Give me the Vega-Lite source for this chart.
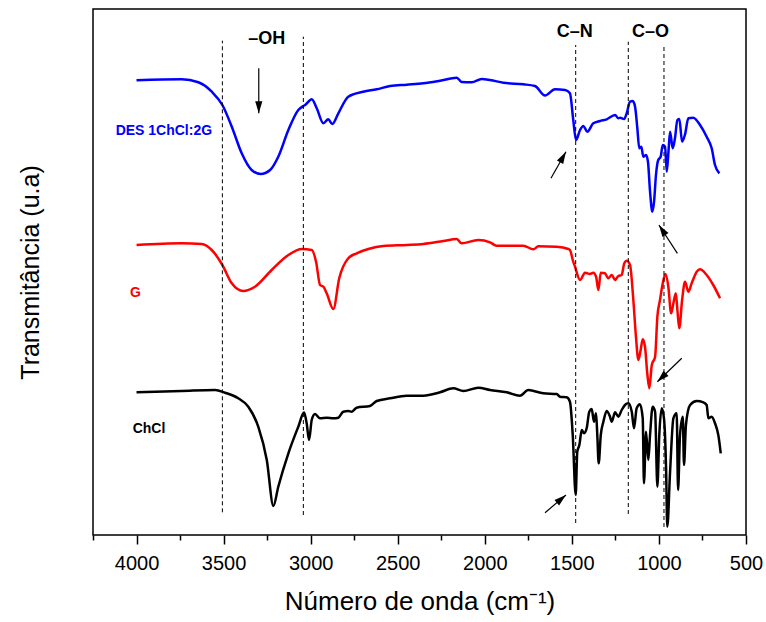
{
  "$schema": "https://vega.github.io/schema/vega-lite/v6.json",
  "width": 653,
  "height": 526,
  "autosize": {"type": "none"},
  "padding": {"left": 93, "top": 9, "right": 20, "bottom": 87},
  "config": {
    "font": "Liberation Sans",
    "view": {"stroke": "black", "strokeWidth": 1.5},
    "axis": {"grid": false, "labelColor": "black", "titleColor": "black", "titleFontWeight": "normal"}
  },
  "datasets": {
    "spectra": [
      {"s":"DES 1ChCl:2G","wn":4000,"t":454.7},{"s":"DES 1ChCl:2G","wn":3741,"t":455.7},{"s":"DES 1ChCl:2G","wn":3645,"t":452.7},{"s":"DES 1ChCl:2G","wn":3568,"t":443.3},{"s":"DES 1ChCl:2G","wn":3507,"t":430},{"s":"DES 1ChCl:2G","wn":3453,"t":408.3},{"s":"DES 1ChCl:2G","wn":3396,"t":381.7},{"s":"DES 1ChCl:2G","wn":3339,"t":365},{"s":"DES 1ChCl:2G","wn":3287,"t":361},{"s":"DES 1ChCl:2G","wn":3233,"t":365},{"s":"DES 1ChCl:2G","wn":3186,"t":378.3},{"s":"DES 1ChCl:2G","wn":3128,"t":405},{"s":"DES 1ChCl:2G","wn":3071,"t":425},{"s":"DES 1ChCl:2G","wn":3042,"t":429},{"s":"DES 1ChCl:2G","wn":3032,"t":430},{"s":"DES 1ChCl:2G","wn":2994,"t":435.7},{"s":"DES 1ChCl:2G","wn":2965,"t":426.7},{"s":"DES 1ChCl:2G","wn":2927,"t":411.7},{"s":"DES 1ChCl:2G","wn":2899,"t":415.7},{"s":"DES 1ChCl:2G","wn":2876,"t":411},{"s":"DES 1ChCl:2G","wn":2841,"t":421.7},{"s":"DES 1ChCl:2G","wn":2784,"t":438.3},{"s":"DES 1ChCl:2G","wn":2698,"t":443.3},{"s":"DES 1ChCl:2G","wn":2621,"t":445.7},{"s":"DES 1ChCl:2G","wn":2544,"t":449},{"s":"DES 1ChCl:2G","wn":2448,"t":450.3},{"s":"DES 1ChCl:2G","wn":2353,"t":451.7},{"s":"DES 1ChCl:2G","wn":2257,"t":454.3},{"s":"DES 1ChCl:2G","wn":2161,"t":457.3},{"s":"DES 1ChCl:2G","wn":2133,"t":453},{"s":"DES 1ChCl:2G","wn":2075,"t":452.7},{"s":"DES 1ChCl:2G","wn":2018,"t":456},{"s":"DES 1ChCl:2G","wn":1970,"t":455},{"s":"DES 1ChCl:2G","wn":1894,"t":452.3},{"s":"DES 1ChCl:2G","wn":1779,"t":450.7},{"s":"DES 1ChCl:2G","wn":1712,"t":449},{"s":"DES 1ChCl:2G","wn":1654,"t":439.5},{"s":"DES 1ChCl:2G","wn":1597,"t":445.7},{"s":"DES 1ChCl:2G","wn":1539,"t":445},{"s":"DES 1ChCl:2G","wn":1511,"t":441.7},{"s":"DES 1ChCl:2G","wn":1492,"t":415},{"s":"DES 1ChCl:2G","wn":1476,"t":395},{"s":"DES 1ChCl:2G","wn":1453,"t":405},{"s":"DES 1ChCl:2G","wn":1434,"t":409},{"s":"DES 1ChCl:2G","wn":1411,"t":403.3},{"s":"DES 1ChCl:2G","wn":1377,"t":411.7},{"s":"DES 1ChCl:2G","wn":1338,"t":414},{"s":"DES 1ChCl:2G","wn":1300,"t":415.7},{"s":"DES 1ChCl:2G","wn":1252,"t":420},{"s":"DES 1ChCl:2G","wn":1233,"t":416.7},{"s":"DES 1ChCl:2G","wn":1223,"t":417.3},{"s":"DES 1ChCl:2G","wn":1200,"t":416},{"s":"DES 1ChCl:2G","wn":1185,"t":421.7},{"s":"DES 1ChCl:2G","wn":1166,"t":433.3},{"s":"DES 1ChCl:2G","wn":1150,"t":434},{"s":"DES 1ChCl:2G","wn":1137,"t":428.3},{"s":"DES 1ChCl:2G","wn":1124,"t":406.7},{"s":"DES 1ChCl:2G","wn":1113,"t":386.7},{"s":"DES 1ChCl:2G","wn":1101,"t":388.3},{"s":"DES 1ChCl:2G","wn":1090,"t":378.3},{"s":"DES 1ChCl:2G","wn":1074,"t":380},{"s":"DES 1ChCl:2G","wn":1063,"t":373.3},{"s":"DES 1ChCl:2G","wn":1051,"t":343.3},{"s":"DES 1ChCl:2G","wn":1038,"t":323.3},{"s":"DES 1ChCl:2G","wn":1028,"t":333.3},{"s":"DES 1ChCl:2G","wn":1017,"t":360},{"s":"DES 1ChCl:2G","wn":1004,"t":375},{"s":"DES 1ChCl:2G","wn":990,"t":378.3},{"s":"DES 1ChCl:2G","wn":978,"t":390},{"s":"DES 1ChCl:2G","wn":965,"t":388.3},{"s":"DES 1ChCl:2G","wn":955,"t":363.3},{"s":"DES 1ChCl:2G","wn":944,"t":386.7},{"s":"DES 1ChCl:2G","wn":936,"t":403.3},{"s":"DES 1ChCl:2G","wn":921,"t":386.7},{"s":"DES 1ChCl:2G","wn":908,"t":396.7},{"s":"DES 1ChCl:2G","wn":894,"t":415},{"s":"DES 1ChCl:2G","wn":883,"t":416},{"s":"DES 1ChCl:2G","wn":867,"t":393.3},{"s":"DES 1ChCl:2G","wn":850,"t":400.7},{"s":"DES 1ChCl:2G","wn":831,"t":416.7},{"s":"DES 1ChCl:2G","wn":803,"t":417.3},{"s":"DES 1ChCl:2G","wn":764,"t":410},{"s":"DES 1ChCl:2G","wn":726,"t":398.3},{"s":"DES 1ChCl:2G","wn":697,"t":386.7},{"s":"DES 1ChCl:2G","wn":678,"t":370},{"s":"DES 1ChCl:2G","wn":653,"t":361.7},
      {"s":"G","wn":4000,"t":290},{"s":"G","wn":3741,"t":291.7},{"s":"G","wn":3626,"t":291},{"s":"G","wn":3568,"t":285},{"s":"G","wn":3507,"t":270},{"s":"G","wn":3453,"t":251.7},{"s":"G","wn":3387,"t":244},{"s":"G","wn":3320,"t":248.3},{"s":"G","wn":3224,"t":265},{"s":"G","wn":3128,"t":280},{"s":"G","wn":3051,"t":286},{"s":"G","wn":2994,"t":285},{"s":"G","wn":2969,"t":273.3},{"s":"G","wn":2946,"t":250},{"s":"G","wn":2927,"t":248.3},{"s":"G","wn":2908,"t":241.7},{"s":"G","wn":2870,"t":226},{"s":"G","wn":2836,"t":256.7},{"s":"G","wn":2784,"t":276.7},{"s":"G","wn":2736,"t":281.7},{"s":"G","wn":2669,"t":286},{"s":"G","wn":2583,"t":289},{"s":"G","wn":2448,"t":290},{"s":"G","wn":2353,"t":291},{"s":"G","wn":2238,"t":294},{"s":"G","wn":2161,"t":296},{"s":"G","wn":2133,"t":291.7},{"s":"G","wn":2037,"t":295},{"s":"G","wn":1970,"t":292.7},{"s":"G","wn":1932,"t":289.3},{"s":"G","wn":1779,"t":289.3},{"s":"G","wn":1721,"t":285.7},{"s":"G","wn":1693,"t":288.7},{"s":"G","wn":1587,"t":288.3},{"s":"G","wn":1520,"t":286},{"s":"G","wn":1511,"t":285},{"s":"G","wn":1492,"t":273.3},{"s":"G","wn":1482,"t":268.3},{"s":"G","wn":1453,"t":255},{"s":"G","wn":1424,"t":262.3},{"s":"G","wn":1396,"t":261},{"s":"G","wn":1377,"t":262.3},{"s":"G","wn":1361,"t":258.3},{"s":"G","wn":1348,"t":245},{"s":"G","wn":1334,"t":262.3},{"s":"G","wn":1310,"t":261.7},{"s":"G","wn":1291,"t":256.7},{"s":"G","wn":1271,"t":260},{"s":"G","wn":1252,"t":255},{"s":"G","wn":1233,"t":259},{"s":"G","wn":1214,"t":260},{"s":"G","wn":1199,"t":271.7},{"s":"G","wn":1185,"t":274.3},{"s":"G","wn":1166,"t":270},{"s":"G","wn":1147,"t":235},{"s":"G","wn":1132,"t":198.3},{"s":"G","wn":1118,"t":175},{"s":"G","wn":1105,"t":185},{"s":"G","wn":1093,"t":195.7},{"s":"G","wn":1080,"t":188.3},{"s":"G","wn":1067,"t":161.7},{"s":"G","wn":1055,"t":146.7},{"s":"G","wn":1041,"t":170},{"s":"G","wn":1022,"t":178.3},{"s":"G","wn":1009,"t":218.3},{"s":"G","wn":994,"t":235},{"s":"G","wn":978,"t":251.7},{"s":"G","wn":963,"t":261},{"s":"G","wn":946,"t":248.3},{"s":"G","wn":930,"t":221.7},{"s":"G","wn":917,"t":231.7},{"s":"G","wn":903,"t":241.7},{"s":"G","wn":894,"t":225},{"s":"G","wn":883,"t":206.7},{"s":"G","wn":867,"t":235},{"s":"G","wn":850,"t":253.3},{"s":"G","wn":831,"t":243.3},{"s":"G","wn":812,"t":251.7},{"s":"G","wn":783,"t":263.3},{"s":"G","wn":764,"t":265.7},{"s":"G","wn":726,"t":260},{"s":"G","wn":688,"t":250},{"s":"G","wn":649,"t":236.7},
      {"s":"ChCl","wn":4000,"t":142.7},{"s":"ChCl","wn":3741,"t":144},{"s":"ChCl","wn":3549,"t":145},{"s":"ChCl","wn":3492,"t":142.3},{"s":"ChCl","wn":3416,"t":136.7},{"s":"ChCl","wn":3358,"t":128.3},{"s":"ChCl","wn":3301,"t":108.3},{"s":"ChCl","wn":3252,"t":75},{"s":"ChCl","wn":3214,"t":29},{"s":"ChCl","wn":3186,"t":48.3},{"s":"ChCl","wn":3128,"t":81.7},{"s":"ChCl","wn":3071,"t":108.3},{"s":"ChCl","wn":3038,"t":122.5},{"s":"ChCl","wn":3023,"t":111.7},{"s":"ChCl","wn":3009,"t":95},{"s":"ChCl","wn":2994,"t":115},{"s":"ChCl","wn":2975,"t":121},{"s":"ChCl","wn":2946,"t":116.7},{"s":"ChCl","wn":2908,"t":117.3},{"s":"ChCl","wn":2870,"t":116.7},{"s":"ChCl","wn":2841,"t":117.3},{"s":"ChCl","wn":2813,"t":123.3},{"s":"ChCl","wn":2784,"t":124},{"s":"ChCl","wn":2764,"t":123.3},{"s":"ChCl","wn":2736,"t":127.3},{"s":"ChCl","wn":2659,"t":129},{"s":"ChCl","wn":2621,"t":134},{"s":"ChCl","wn":2544,"t":136.7},{"s":"ChCl","wn":2448,"t":139.3},{"s":"ChCl","wn":2353,"t":139.3},{"s":"ChCl","wn":2257,"t":142.7},{"s":"ChCl","wn":2181,"t":146.7},{"s":"ChCl","wn":2123,"t":144},{"s":"ChCl","wn":2037,"t":147.3},{"s":"ChCl","wn":1970,"t":145},{"s":"ChCl","wn":1874,"t":142.7},{"s":"ChCl","wn":1798,"t":139.3},{"s":"ChCl","wn":1750,"t":145},{"s":"ChCl","wn":1664,"t":141.7},{"s":"ChCl","wn":1587,"t":141},{"s":"ChCl","wn":1568,"t":138.3},{"s":"ChCl","wn":1530,"t":137.7},{"s":"ChCl","wn":1511,"t":133.3},{"s":"ChCl","wn":1495,"t":100},{"s":"ChCl","wn":1478,"t":40},{"s":"ChCl","wn":1469,"t":83.3},{"s":"ChCl","wn":1457,"t":90},{"s":"ChCl","wn":1443,"t":105},{"s":"ChCl","wn":1430,"t":101.7},{"s":"ChCl","wn":1415,"t":106.7},{"s":"ChCl","wn":1400,"t":123.3},{"s":"ChCl","wn":1386,"t":126},{"s":"ChCl","wn":1373,"t":113.3},{"s":"ChCl","wn":1361,"t":121.7},{"s":"ChCl","wn":1354,"t":100},{"s":"ChCl","wn":1346,"t":71.7},{"s":"ChCl","wn":1334,"t":100},{"s":"ChCl","wn":1319,"t":113.3},{"s":"ChCl","wn":1300,"t":124},{"s":"ChCl","wn":1281,"t":118.3},{"s":"ChCl","wn":1271,"t":113.3},{"s":"ChCl","wn":1252,"t":122.7},{"s":"ChCl","wn":1233,"t":118.3},{"s":"ChCl","wn":1214,"t":125},{"s":"ChCl","wn":1195,"t":130},{"s":"ChCl","wn":1176,"t":131.7},{"s":"ChCl","wn":1156,"t":123.3},{"s":"ChCl","wn":1143,"t":106.7},{"s":"ChCl","wn":1128,"t":126.7},{"s":"ChCl","wn":1109,"t":130.7},{"s":"ChCl","wn":1093,"t":116.7},{"s":"ChCl","wn":1086,"t":51.7},{"s":"ChCl","wn":1074,"t":103.3},{"s":"ChCl","wn":1061,"t":75},{"s":"ChCl","wn":1051,"t":100},{"s":"ChCl","wn":1036,"t":128.3},{"s":"ChCl","wn":1022,"t":123.3},{"s":"ChCl","wn":1009,"t":48.3},{"s":"ChCl","wn":998,"t":100},{"s":"ChCl","wn":984,"t":126.7},{"s":"ChCl","wn":971,"t":116.7},{"s":"ChCl","wn":959,"t":66.7},{"s":"ChCl","wn":952,"t":8.3},{"s":"ChCl","wn":936,"t":63.3},{"s":"ChCl","wn":917,"t":116.7},{"s":"ChCl","wn":898,"t":121.7},{"s":"ChCl","wn":890,"t":45},{"s":"ChCl","wn":879,"t":100},{"s":"ChCl","wn":863,"t":118.3},{"s":"ChCl","wn":856,"t":70},{"s":"ChCl","wn":845,"t":110},{"s":"ChCl","wn":821,"t":130},{"s":"ChCl","wn":783,"t":134},{"s":"ChCl","wn":745,"t":132.7},{"s":"ChCl","wn":726,"t":130},{"s":"ChCl","wn":716,"t":116.7},{"s":"ChCl","wn":697,"t":118.3},{"s":"ChCl","wn":678,"t":111.7},{"s":"ChCl","wn":659,"t":100},{"s":"ChCl","wn":645,"t":81.7}
    ],
    "guides": [
      {"wn": 3507, "lo": 22.7, "hi": 494.3},
      {"wn": 3042, "lo": 20, "hi": 498.3},
      {"wn": 1478, "lo": 12, "hi": 490},
      {"wn": 1176, "lo": 21, "hi": 493.3},
      {"wn": 971, "lo": 8, "hi": 490}
    ],
    "arrows": [
      {"x0": 3298, "y0": 466.7, "x1": 3298, "y1": 421.7},
      {"x0": 1620, "y0": 356.7, "x1": 1534, "y1": 383.3},
      {"x0": 894, "y0": 281.7, "x1": 1000, "y1": 310},
      {"x0": 869, "y0": 176.7, "x1": 1009, "y1": 153.3},
      {"x0": 1654, "y0": 22.3, "x1": 1534, "y1": 40}
    ],
    "bands": [
      {"label": "–OH", "wn": 3252, "t": 495.7},
      {"label": "C–N", "wn": 1484, "t": 502.7},
      {"label": "C–O", "wn": 1049, "t": 502.7}
    ],
    "names": [
      {"s": "DES 1ChCl:2G", "wn": 4120, "t": 404.3},
      {"s": "G", "wn": 4037, "t": 242.3},
      {"s": "ChCl", "wn": 4022, "t": 105.7}
    ]
  },
  "layer": [
    {
      "data": {"name": "spectra"},
      "mark": {"type": "line", "strokeWidth": 2.5, "strokeJoin": "round", "interpolate": "monotone", "clip": true},
      "encoding": {
        "x": {
          "field": "wn", "type": "quantitative",
          "scale": {"domain": [500, 4250], "reverse": true, "nice": false, "zero": false},
          "axis": {
            "title": "Número de onda (cm⁻¹)",
            "titleFontSize": 26, "titlePadding": 15,
            "values": [4250, 4000, 3750, 3500, 3250, 3000, 2750, 2500, 2250, 2000, 1750, 1500, 1250, 1000, 750, 500],
            "format": "d",
            "labelExpr": "datum.value % 500 === 0 ? datum.label : ''",
            "labelOverlap": false,
            "labelFontSize": 20, "labelPadding": 9, "labelFlush": false,
            "domain": false,
            "tickColor": "black", "tickWidth": 1.5,
            "tickSize": {"condition": {"test": "datum.value % 500 === 0", "value": 9}, "value": 5}
          }
        },
        "y": {
          "field": "t", "type": "quantitative",
          "scale": {"domain": [0, 526], "nice": false, "zero": false},
          "axis": {"title": "Transmitância (u.a)", "titleFontSize": 25, "titlePadding": 50, "labels": false, "ticks": false, "domain": false}
        },
        "color": {
          "field": "s", "type": "nominal",
          "scale": {"domain": ["DES 1ChCl:2G", "G", "ChCl"], "range": ["#0000FF", "#FF0000", "#000000"]},
          "legend": null
        }
      }
    },
    {
      "data": {"name": "guides"},
      "mark": {"type": "rule", "color": "black", "strokeWidth": 1, "strokeDash": [4, 3]},
      "encoding": {
        "x": {"field": "wn", "type": "quantitative"},
        "y": {"field": "lo", "type": "quantitative"},
        "y2": {"field": "hi"}
      }
    },
    {
      "data": {"name": "arrows"},
      "mark": {"type": "rule", "color": "black", "strokeWidth": 1.2},
      "encoding": {
        "x": {"field": "x0", "type": "quantitative"},
        "x2": {"field": "x1"},
        "y": {"field": "y0", "type": "quantitative"},
        "y2": {"field": "y1"}
      }
    },
    {
      "data": {"name": "arrows"},
      "mark": {"type": "point", "shape": "M0,0L0.3,1L-0.3,1Z", "filled": true, "color": "black", "opacity": 1, "size": 576, "strokeWidth": 0},
      "encoding": {
        "x": {"field": "x1", "type": "quantitative"},
        "y": {"field": "y1", "type": "quantitative"},
        "angle": {"value": {"expr": "atan2(scale('x', datum.x1) - scale('x', datum.x0), scale('y', datum.y0) - scale('y', datum.y1)) * 180 / PI"}}
      }
    },
    {
      "data": {"name": "bands"},
      "mark": {"type": "text", "fontSize": 18, "fontWeight": "bold", "color": "black", "align": "center", "baseline": "middle"},
      "encoding": {
        "x": {"field": "wn", "type": "quantitative"},
        "y": {"field": "t", "type": "quantitative"},
        "text": {"field": "label"}
      }
    },
    {
      "data": {"name": "names"},
      "mark": {"type": "text", "fontSize": 14, "fontWeight": "bold", "align": "left", "baseline": "middle"},
      "encoding": {
        "x": {"field": "wn", "type": "quantitative"},
        "y": {"field": "t", "type": "quantitative"},
        "text": {"field": "s"},
        "color": {"field": "s", "type": "nominal", "legend": null}
      }
    }
  ]
}
